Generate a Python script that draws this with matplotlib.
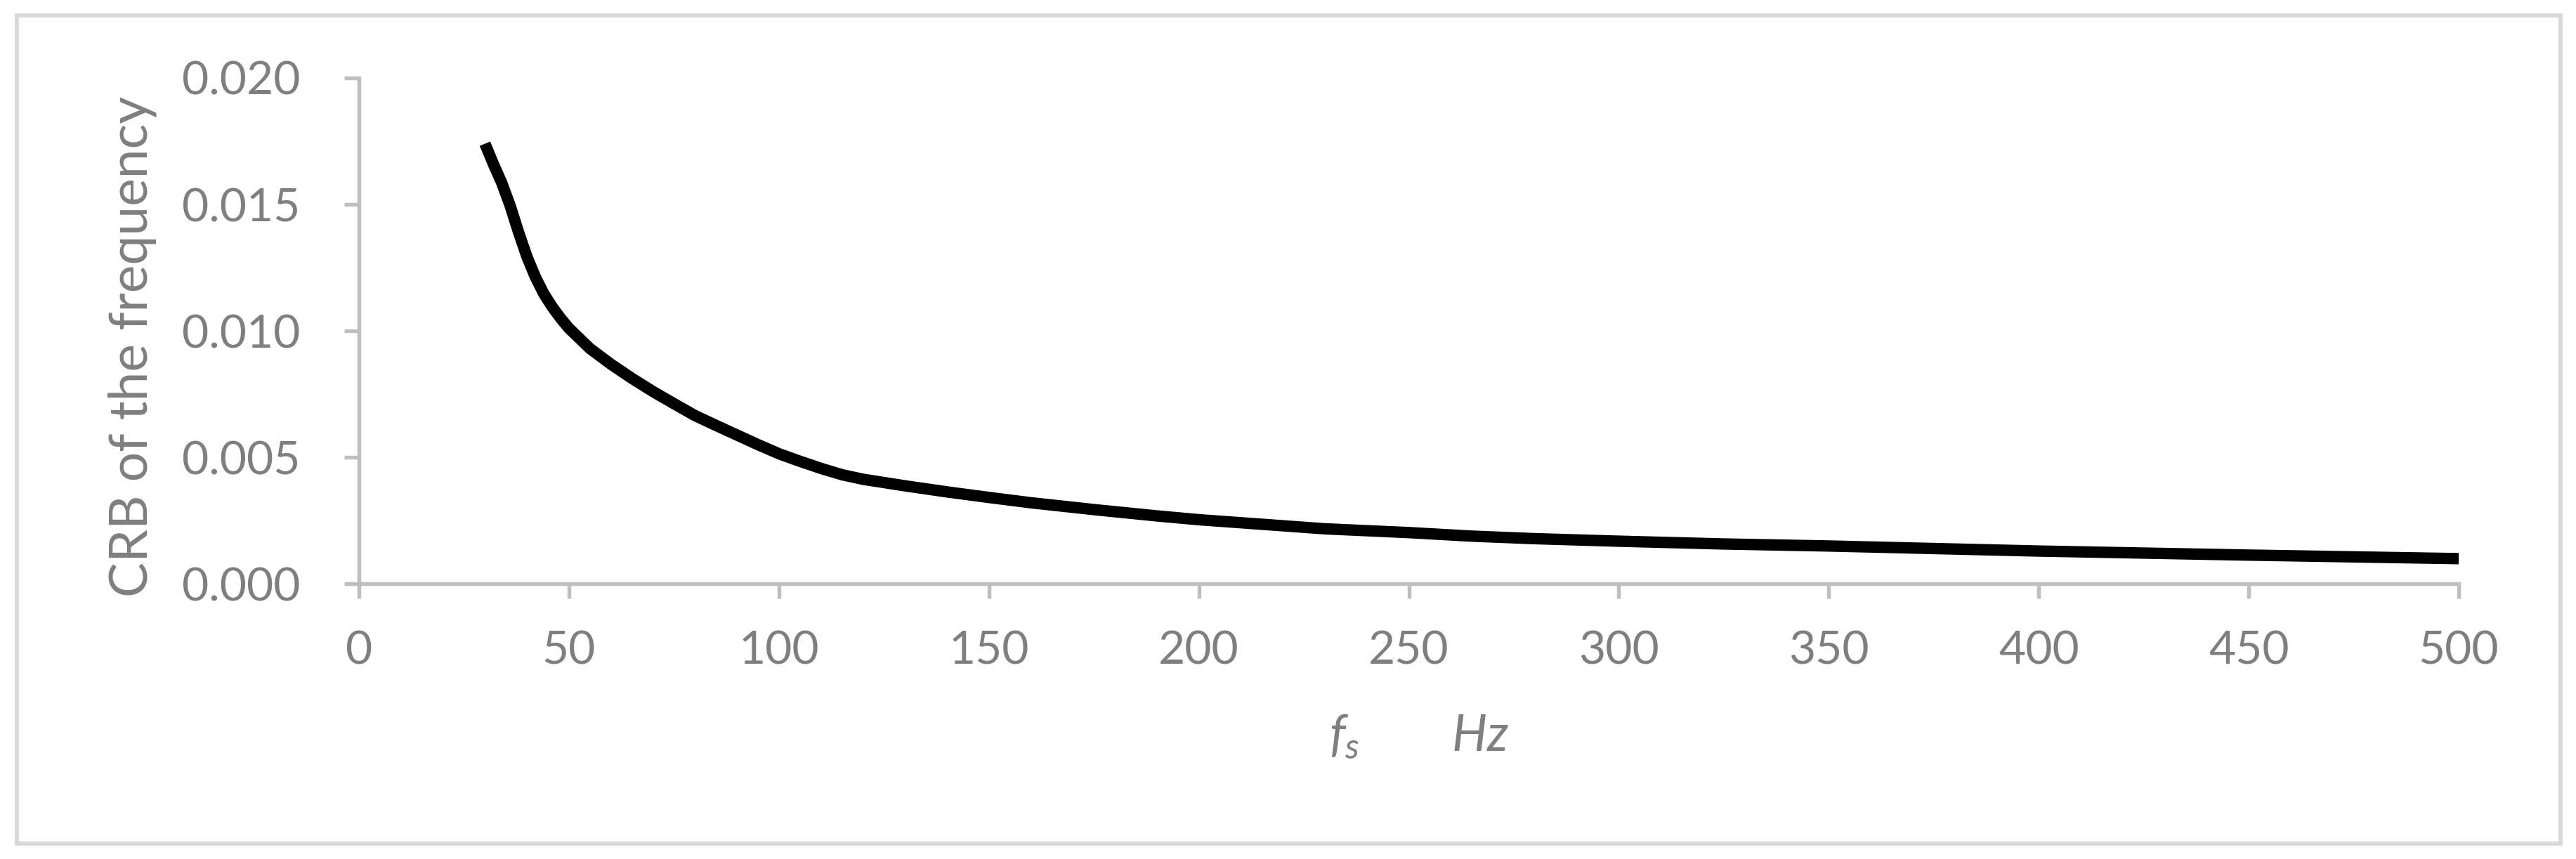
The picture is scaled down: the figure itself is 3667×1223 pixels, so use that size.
import matplotlib
matplotlib.use("Agg")
import matplotlib.pyplot as plt
from matplotlib.patches import Rectangle

# sampling frequency (Hz) and CRB of the frequency
fs = [30, 32, 34, 36, 38, 40, 42, 44, 46, 48, 50, 55, 60, 65, 70, 75, 80,
      85, 90, 95, 100, 105, 110, 115, 120, 125, 130, 140, 150, 160, 175,
      190, 200, 215, 230, 250, 265, 280, 300, 325, 350, 375, 400, 425,
      450, 475, 500]
crb = [0.01740, 0.01660, 0.01585, 0.01495, 0.01390, 0.01293, 0.01213,
       0.01147, 0.01095, 0.01050, 0.01010, 0.00930, 0.00868, 0.00812,
       0.00760, 0.00712, 0.00665, 0.00626, 0.00588, 0.00550, 0.00514,
       0.00484, 0.00456, 0.00431, 0.00413, 0.00400, 0.00387, 0.00363,
       0.00341, 0.00320, 0.00293, 0.00268, 0.00253, 0.00235, 0.00217,
       0.00202, 0.00188, 0.00178, 0.00168, 0.00157, 0.00149, 0.00139,
       0.00129, 0.00121, 0.00113, 0.00106, 0.00099]

xticks = list(range(0, 501, 50))
yticks = [0.000, 0.005, 0.010, 0.015, 0.020]

W, H = 3667, 1223
DPI = 300
TXT = '#7f7f7f'
AX = '#bfbfbf'

plt.rcParams['font.family'] = ['Lato', 'DejaVu Sans']
plt.rcParams['mathtext.fontset'] = 'custom'
plt.rcParams['mathtext.it'] = 'Lato:italic'
plt.rcParams['mathtext.rm'] = 'Lato'

fig = plt.figure(figsize=(W / DPI, H / DPI), dpi=DPI)
fig.patch.set_facecolor('white')

# chart area border
fig.patches.append(Rectangle((24 / W, 1 - 1201 / H), (3645 - 24) / W, (1201 - 22) / H,
                             transform=fig.transFigure, fill=False,
                             edgecolor='#d9d9d9', linewidth=1.4))

left, right = 511 / W, 3500 / W
bottom, top = 1 - 831 / H, 1 - 111 / H
ax = fig.add_axes([left, bottom, right - left, top - bottom])

ax.plot(fs, crb, color='black', linewidth=3.9, solid_capstyle='butt',
        solid_joinstyle='round', clip_on=False)

ax.set_xlim(0, 500)
ax.set_ylim(0, 0.020)
ax.set_xticks(xticks)
ax.set_yticks(yticks)
ax.set_yticklabels([f'{v:.3f}' for v in yticks])

ax.spines.top.set(visible=False)
ax.spines.right.set(visible=False)
for s in ('left', 'bottom'):
    ax.spines[s].set_color(AX)
    ax.spines[s].set_linewidth(1.3)

ax.tick_params(direction='out', length=5, width=1.3, color=AX,
               labelcolor=TXT, labelsize=15.8)
ax.tick_params(axis='y', pad=15)
ax.tick_params(axis='x', pad=11)

ax.set_ylabel('CRB of the frequency', color=TXT, fontsize=18)
ax.yaxis.set_label_coords(-0.0964, 0.469)

ax.set_xlabel(r'$f_s\qquad\ Hz$', color=TXT, fontsize=17)
ax.xaxis.set_label_coords(0.505, -0.255)

fig.savefig('out.png', dpi=DPI)
